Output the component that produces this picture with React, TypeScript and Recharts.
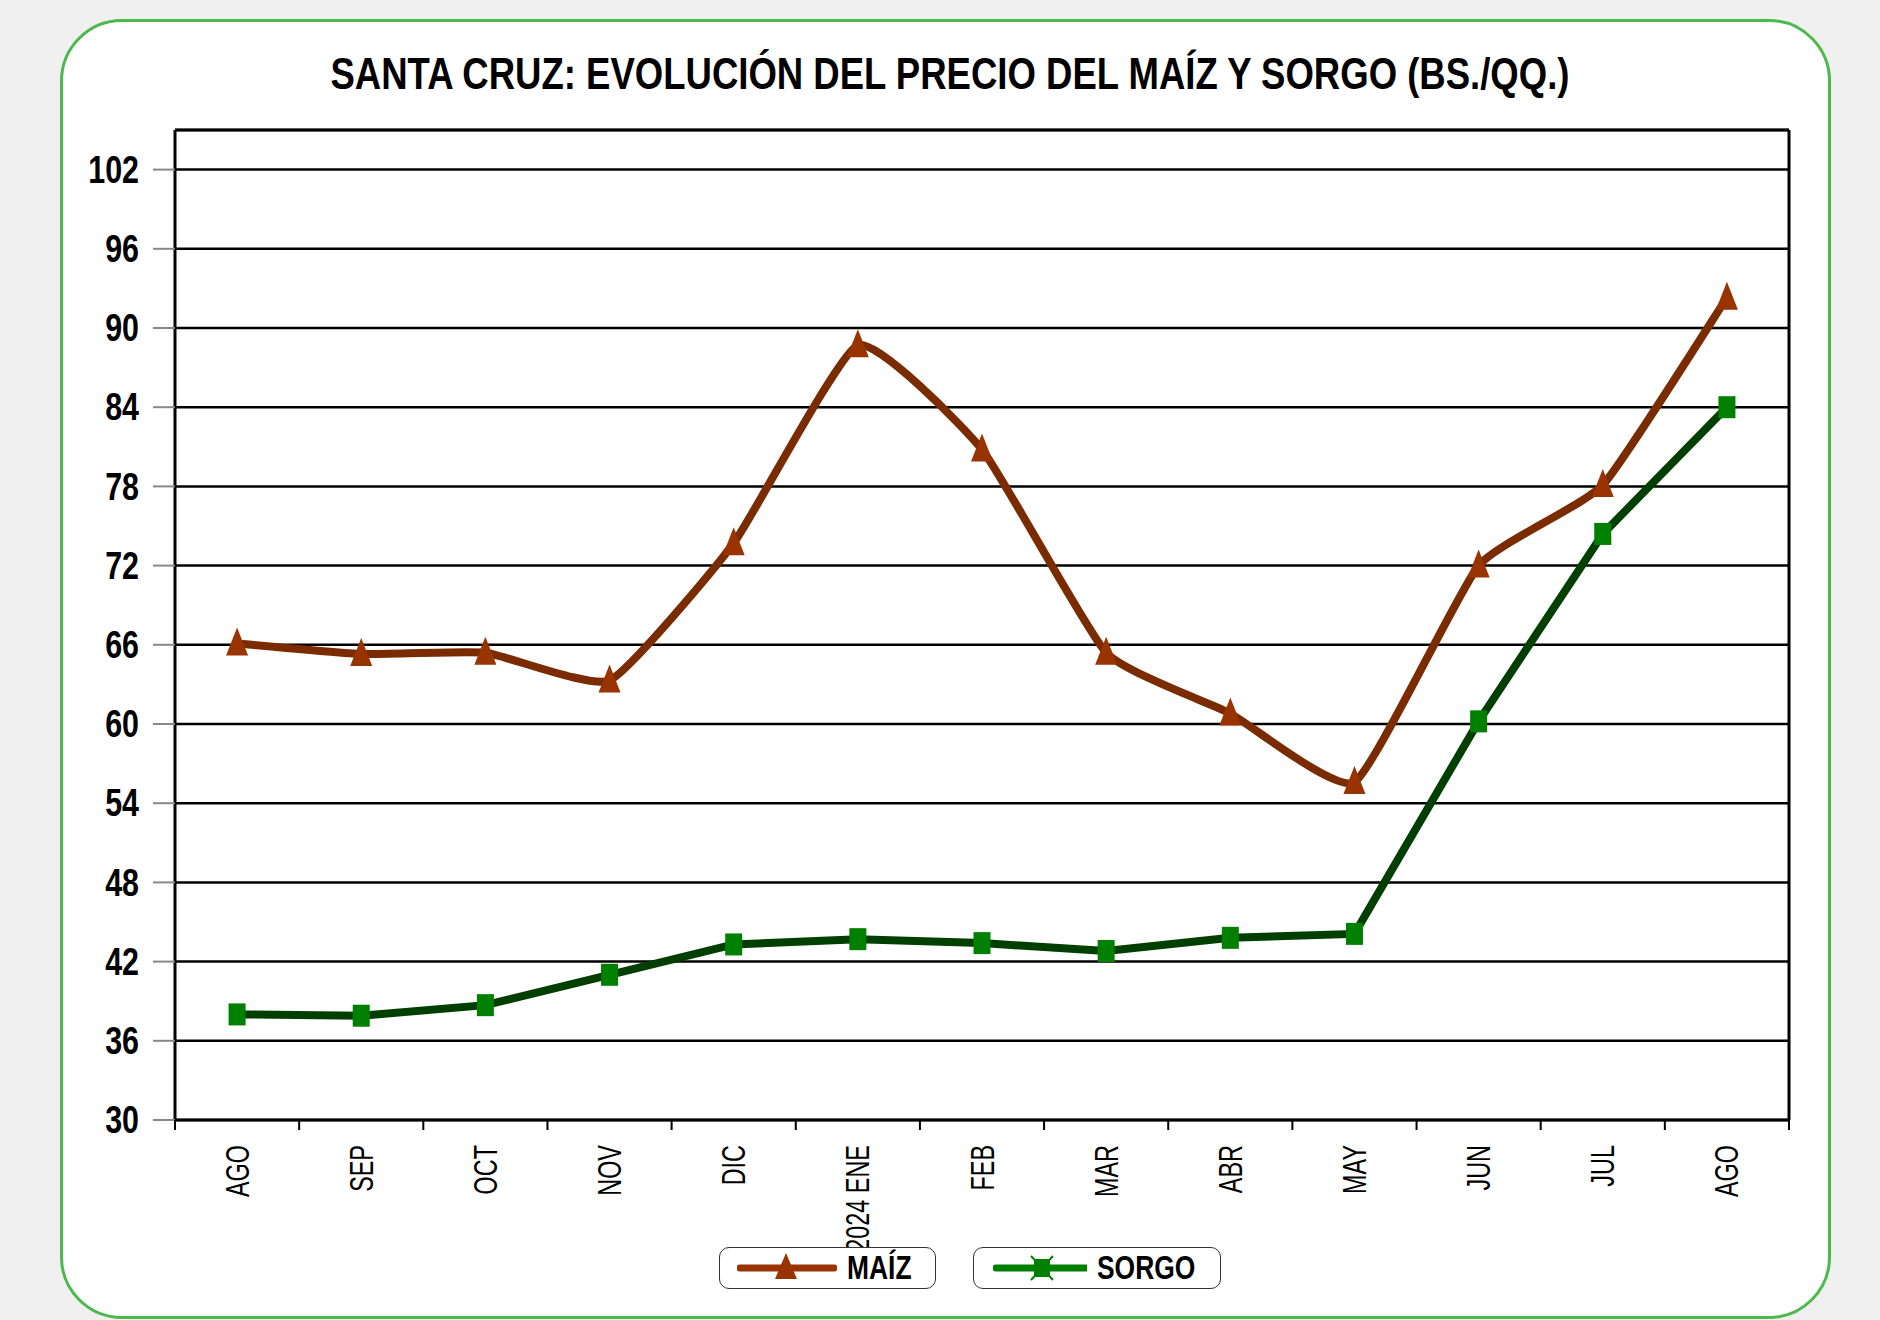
import React from 'react';
import { LineChart, Line, XAxis, YAxis, CartesianGrid } from 'recharts';

// months shown on the axis (Aug 2023 .. Aug 2024)
const months = ['AGO', 'SEP', 'OCT', 'NOV', 'DIC', '2024 ENE', 'FEB', 'MAR', 'ABR', 'MAY', 'JUN', 'JUL', 'AGO'];
const maizPrices = [66.1, 65.3, 65.4, 63.3, 73.7, 88.7, 80.8, 65.4, 60.8, 55.6, 72.0, 78.1, 92.3];
const sorgoPrices = [38.0, 37.9, 38.7, 41.0, 43.3, 43.7, 43.4, 42.8, 43.8, 44.1, 60.2, 74.4, 84.0];
const yTicks = [30, 36, 42, 48, 54, 60, 66, 72, 78, 84, 90, 96, 102];
const yDomain = [30, 105];
const seriesNames = ['MAÍZ', 'SORGO'];
const title = 'SANTA CRUZ: EVOLUCIÓN DEL PRECIO DEL MAÍZ Y SORGO (BS./QQ.)';

const chartData = months.map((month, i) => ({
  month,
  maiz: maizPrices[i],
  sorgo: sorgoPrices[i],
}));

const CHART_W = 1880;
const CHART_H = 1320;
const MARGIN = { top: 130, right: 91, left: 75, bottom: 120 };
const Y_AXIS_W = 100;
const PLOT_W = CHART_W - MARGIN.left - MARGIN.right - Y_AXIS_W;
const STEP = PLOT_W / months.length; // width of one month slot

const MAIZ_LINE = '#7a2c00';
const MAIZ_MARK = '#993300';
const SORGO_LINE = '#003f00';
const SORGO_MARK = '#008000';
const FONT = '"Liberation Sans", Arial, sans-serif';

// light spreadsheet-style smoothing (cardinal spline with reduced tangents)
const SMOOTH = 0.45;
const lightSmooth = (context: any) => {
  let pts: number[][] = [];
  return {
    areaStart() {},
    areaEnd() {},
    lineStart() {
      pts = [];
    },
    point(x: number, y: number) {
      pts.push([+x, +y]);
    },
    lineEnd() {
      if (!pts.length) return;
      context.moveTo(pts[0][0], pts[0][1]);
      const k = SMOOTH / 2;
      for (let i = 0; i < pts.length - 1; i++) {
        const p0 = pts[i - 1] || pts[i];
        const p1 = pts[i];
        const p2 = pts[i + 1];
        const p3 = pts[i + 2] || p2;
        context.bezierCurveTo(
          p1[0] + ((p2[0] - p0[0]) * k) / 3,
          p1[1] + ((p2[1] - p0[1]) * k) / 3,
          p2[0] - ((p3[0] - p1[0]) * k) / 3,
          p2[1] - ((p3[1] - p1[1]) * k) / 3,
          p2[0],
          p2[1]
        );
      }
    },
  };
};

const TriangleDot = (props: any) => {
  const { cx, cy, index } = props;
  if (cx == null || cy == null) return null;
  return (
    <polygon
      key={`tri-${index}`}
      points={`${cx},${cy - 16} ${cx + 11},${cy + 12} ${cx - 11},${cy + 12}`}
      fill={MAIZ_MARK}
    />
  );
};

const SquareDot = (props: any) => {
  const { cx, cy, index } = props;
  if (cx == null || cy == null) return null;
  return <rect key={`sq-${index}`} x={cx - 8.5} y={cy - 11} width={17} height={22} fill={SORGO_MARK} />;
};

const YTick = (props: any) => {
  const { x, y, payload } = props;
  return (
    <text
      transform={`translate(${x},${y}) scale(0.8,1)`}
      textAnchor="end"
      dominantBaseline="central"
      fontFamily={FONT}
      fontWeight="bold"
      fontSize={38}
      fill="#000"
    >
      {payload.value}
    </text>
  );
};

// label in the middle of the slot, tick marks on the slot edges
const XTick = (props: any) => {
  const { x, y, payload, index } = props;
  const axisY = y - 25;
  return (
    <g>
      <line x1={x - STEP / 2} y1={axisY} x2={x - STEP / 2} y2={axisY + 10} stroke="#000" strokeWidth={2} />
      {index === months.length - 1 && (
        <line x1={x + STEP / 2} y1={axisY} x2={x + STEP / 2} y2={axisY + 10} stroke="#000" strokeWidth={2} />
      )}
      <text
        transform={`translate(${x},${y}) rotate(-90) scale(0.71,1)`}
        textAnchor="end"
        dominantBaseline="central"
        fontFamily={FONT}
        fontSize={33}
        fill="#000"
      >
        {payload.value}
      </text>
    </g>
  );
};

const LegendBox = ({ name, index }: { name: string; index: number }) => {
  const isMaiz = index === 0;
  const color = isMaiz ? MAIZ_MARK : SORGO_MARK;
  return (
    <div
      style={{
        boxSizing: 'border-box',
        width: isMaiz ? 217 : 248,
        height: 42,
        border: '1.5px solid #333',
        borderRadius: 10,
        background: '#fff',
        display: 'flex',
        alignItems: 'center',
        paddingLeft: isMaiz ? 17 : 19,
      }}
    >
      <svg width={100} height={40}>
        <line x1={3} y1={20} x2={97} y2={20} stroke={color} strokeWidth={7} strokeLinecap="round" />
        {isMaiz ? (
          <polygon points="49,5 60,31 38,31" fill={color} />
        ) : (
          <g>
            <rect x={41} y={11} width={16} height={18} fill={color} />
            <path d="M38,8 L60,32 M60,8 L38,32" stroke={color} strokeWidth={2} />
          </g>
        )}
      </svg>
      <span
        style={{
          marginLeft: 10,
          fontFamily: FONT,
          fontWeight: 'bold',
          fontSize: 33,
          lineHeight: '32px',
          display: 'inline-block',
          transform: 'scaleX(0.8)',
          transformOrigin: 'left center',
          whiteSpace: 'nowrap',
          color: '#000',
        }}
      >
        {name}
      </span>
    </div>
  );
};

export default function App() {
  return (
    <div style={{ position: 'absolute', left: 0, top: 0, width: CHART_W, height: CHART_H, background: '#f0f0f0', overflow: 'hidden' }}>
      <div
        style={{
          position: 'absolute',
          left: 60,
          top: 19,
          width: 1771,
          height: 1300,
          boxSizing: 'border-box',
          border: '3px solid #4db84d',
          borderRadius: 62,
          background: '#fff',
        }}
      />
      <svg width={CHART_W} height={120} style={{ position: 'absolute', left: 0, top: 0 }}>
        <text
          x={950}
          y={89}
          textAnchor="middle"
          fontFamily={FONT}
          fontWeight="bold"
          fontSize={45}
          textLength={1239}
          lengthAdjust="spacingAndGlyphs"
          fill="#000"
        >
          {title}
        </text>
      </svg>
      <div style={{ position: 'absolute', left: 0, top: 0 }}>
        <LineChart width={CHART_W} height={CHART_H} data={chartData} margin={MARGIN}>
          <CartesianGrid vertical={false} stroke="#000" strokeWidth={2.5} />
          {/* top and right frame of the plot area */}
          <CartesianGrid
            stroke="#000"
            strokeWidth={3}
            horizontalCoordinatesGenerator={(p: any) => [p?.offset?.top ?? MARGIN.top]}
            verticalCoordinatesGenerator={(p: any) => [
              p?.offset ? p.offset.left + p.offset.width : CHART_W - MARGIN.right,
            ]}
          />
          <XAxis
            dataKey="month"
            interval={0}
            height={80}
            padding={{ left: STEP / 2, right: STEP / 2 }}
            tickSize={0}
            tickMargin={25}
            tickLine={false}
            axisLine={{ stroke: '#000', strokeWidth: 3 }}
            tick={<XTick />}
          />
          <YAxis
            domain={yDomain}
            ticks={yTicks}
            interval={0}
            width={Y_AXIS_W}
            tickSize={22}
            tickMargin={14}
            tickLine={{ stroke: '#888', strokeWidth: 2 }}
            axisLine={{ stroke: '#000', strokeWidth: 3 }}
            tick={<YTick />}
          />
          <Line dataKey="maiz" stroke="none" dot={TriangleDot} activeDot={false} legendType="none" isAnimationActive={false} />
          <Line dataKey="maiz" type={lightSmooth as any} stroke={MAIZ_LINE} strokeWidth={8} dot={false} activeDot={false} isAnimationActive={false} />
          <Line dataKey="sorgo" stroke="none" dot={SquareDot} activeDot={false} legendType="none" isAnimationActive={false} />
          <Line dataKey="sorgo" type="linear" stroke={SORGO_LINE} strokeWidth={8} dot={false} activeDot={false} isAnimationActive={false} />
        </LineChart>
      </div>
      <div style={{ position: 'absolute', left: 719, top: 1247, display: 'flex', gap: 37 }}>
        {seriesNames.map((name, i) => (
          <LegendBox key={name} name={name} index={i} />
        ))}
      </div>
    </div>
  );
}
